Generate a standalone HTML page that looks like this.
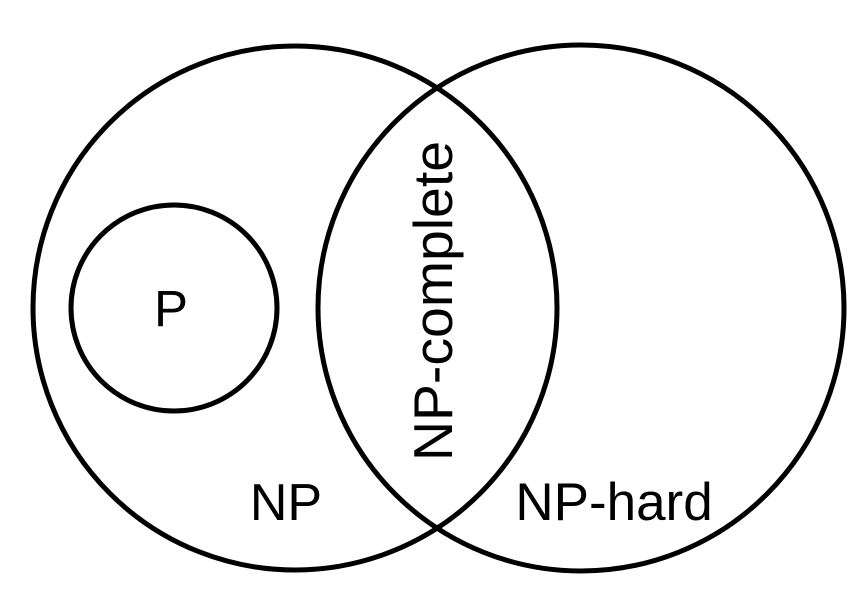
<!DOCTYPE html>
<html><head><style>html,body{margin:0;padding:0;background:#fff}svg{display:block}</style></head>
<body>
<svg width="859" height="594" viewBox="0 0 859 594" xmlns="http://www.w3.org/2000/svg">
<rect width="859" height="594" fill="#fff"/>
<g fill="none" stroke="#000" stroke-width="5">
<circle cx="295" cy="308" r="262"/>
<circle cx="581" cy="308" r="263"/>
<circle cx="174" cy="308" r="103"/>
</g>
<g font-family="Liberation Sans, Arial, sans-serif" fill="#000">
<text x="171" y="326" font-size="51" text-anchor="middle">P</text>
<text x="286" y="520" font-size="52" text-anchor="middle">NP</text>
<text x="614" y="520" font-size="53" text-anchor="middle">NP-hard</text>
<text transform="translate(452,301) rotate(-90)" font-size="55" text-anchor="middle" textLength="320" lengthAdjust="spacingAndGlyphs">NP-complete</text>
</g>
</svg>
</body></html>
